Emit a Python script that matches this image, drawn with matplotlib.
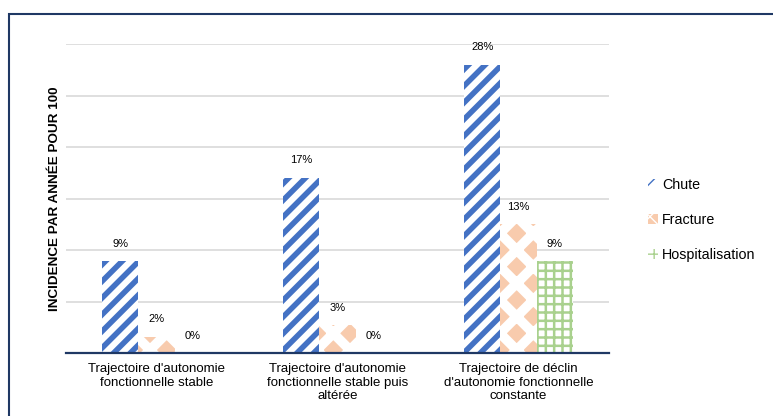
import matplotlib.pyplot as plt
import numpy as np
from matplotlib.patches import Rectangle

categories = ["Trajectoire d'autonomie\nfonctionnelle stable",
              "Trajectoire d'autonomie\nfonctionnelle stable puis\naltérée",
              "Trajectoire de déclin\nd'autonomie fonctionnelle\nconstante"]
series_names = ["Chute", "Fracture", "Hospitalisation"]
chute = [8.9, 17.0, 28.0]
fracture = [1.6, 2.7, 12.5]
hospitalisation = [0, 0, 8.9]
chute_labels = ["9%", "17%", "28%"]
fracture_labels = ["2%", "3%", "13%"]
hospitalisation_labels = ["0%", "0%", "9%"]

plt.rcParams['font.family'] = ['Liberation Sans', 'DejaVu Sans']

fig = plt.figure(figsize=(7.73, 4.16), dpi=100)
ax = fig.add_axes([0.0854, 0.1514, 0.7024, 0.7428])

x = np.arange(len(categories))
w = 0.2
styles = [
    # face, hatch colour, hatch, hatch width
    ("white", "#4472C4", "//", 4.0),
    ("#F8CBAD", "white", "x", 7.0),
    ("white", "#A9D18E", "++", 1.8),
]
values = [chute, fracture, hospitalisation]
labels = [chute_labels, fracture_labels, hospitalisation_labels]

for i, name in enumerate(series_names):
    face, hc, hatch, hlw = styles[i]
    with plt.rc_context({'hatch.linewidth': hlw}):
        bars = ax.bar(x + (i - 1) * w, values[i], w, facecolor=face, edgecolor=hc,
                      hatch=hatch, linewidth=0, label=name)
    ax.bar_label(bars, labels=labels[i], padding=9, fontsize=8)

ax.set_xlim(-0.5, 2.5)
ax.set_ylim(0, 30)
ax.set_yticks(np.arange(0, 31, 5))
ax.tick_params(axis='y', length=0, labelleft=False)
ax.set_xticks(x, categories, fontsize=9.5)
ax.tick_params(axis='x', length=0, pad=7)
ax.grid(axis='y', color='#D9D9D9', linewidth=1.2)
ax.set_axisbelow(True)
for s in ['top', 'left', 'right']:
    ax.spines[s].set_visible(False)
ax.spines['bottom'].set_color('#1F3864')
ax.spines['bottom'].set_linewidth(1.6)

ax.set_ylabel('INCIDENCE PAR ANNÉE POUR 100', fontweight='bold', fontsize=9.7)
ax.yaxis.set_label_coords(-0.010, 0.5)

fig.legend(loc='center left', bbox_to_anchor=(0.829, 0.471), frameon=False,
           fontsize=10.3, handlelength=0.7, handleheight=0.7, handletextpad=0.3,
           labelspacing=1.45, borderpad=0)

fig.add_artist(Rectangle((9 / 773, -0.2), 1.2, 0.2 + (1 - 14 / 416),
                         transform=fig.transFigure, fill=False,
                         edgecolor='#1F3864', linewidth=1.5))

fig.savefig('out.png', dpi=100)
